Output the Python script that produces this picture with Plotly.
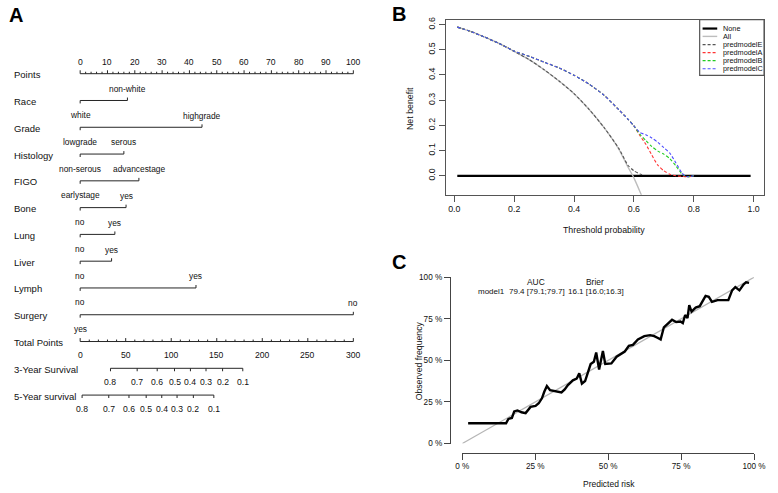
import plotly.graph_objects as go

# ---------------- Panel A : nomogram ----------------
row_names = ["Points", "Race", "Grade", "Histology", "FIGO", "Bone", "Lung", "Liver",
             "Lymph", "Surgery", "Total Points", "3-Year Survival", "5-Year survival"]
points_ticks = [0, 10, 20, 30, 40, 50, 60, 70, 80, 90, 100]

race_levels = ["white", "non-white"];          race_points = [0, 17.3]
grade_levels = ["lowgrade", "highgrade"];      grade_points = [0, 44.6]
histology_levels = ["non-serous", "serous"];   histology_points = [0, 16.0]
figo_levels = ["earlystage", "advancestage"];  figo_points = [0, 21.5]
bone_levels = ["no", "yes"];                   bone_points = [0, 16.8]
lung_levels = ["no", "yes"];                   lung_points = [0, 12.7]
liver_levels = ["no", "yes"];                  liver_points = [0, 11.5]
lymph_levels = ["no", "yes"];                  lymph_points = [0, 42.4]
surgery_levels = ["yes", "no"];                surgery_points = [0, 100]

total_ticks = [0, 50, 100, 150, 200, 250, 300]
surv3_labels = ["0.8", "0.7", "0.6", "0.5", "0.4", "0.3", "0.2", "0.1"]
surv3_total = [33.3, 62.6, 84.6, 103.6, 121.1, 138.2, 156.4, 178.6]
surv5_labels = ["0.8", "0.7", "0.6", "0.5", "0.4", "0.3", "0.2", "0.1"]
surv5_total = [2.1, 31.4, 53.6, 72.5, 89.6, 106.4, 124.3, 146.8]

# ---------------- Panel B : decision curves ----------------
thr_none = [0.01, 0.99]
nb_none = [0.0, 0.0]
thr_all = [0.01, 0.05, 0.10, 0.15, 0.20, 0.25, 0.30, 0.35, 0.40, 0.45, 0.50, 0.55, 0.58, 0.60, 0.62, 0.64]
nb_all = [0.590, 0.575, 0.551, 0.525, 0.494, 0.461, 0.421, 0.376, 0.326, 0.264, 0.192, 0.105, 0.035, -0.008, -0.062, -0.120]
thr_E = [0.01, 0.05, 0.10, 0.15, 0.20, 0.25, 0.30, 0.35, 0.40, 0.45, 0.50, 0.55, 0.58, 0.60, 0.62, 0.63]
nb_E = [0.590, 0.575, 0.551, 0.525, 0.494, 0.461, 0.421, 0.376, 0.326, 0.264, 0.192, 0.108, 0.042, 0.020, 0.007, 0.003]
thr_A = [0.01, 0.05, 0.10, 0.15, 0.20, 0.25, 0.30, 0.35, 0.40, 0.45, 0.50, 0.55, 0.58, 0.60, 0.62, 0.64, 0.66, 0.68, 0.70, 0.72, 0.74, 0.76, 0.78, 0.80]
nb_A = [0.590, 0.575, 0.551, 0.525, 0.495, 0.474, 0.451, 0.428, 0.399, 0.364, 0.320, 0.262, 0.225, 0.198, 0.160, 0.125, 0.082, 0.042, 0.020, 0.006, 0.000, -0.002, -0.004, 0.000]
thr_B = [0.01, 0.05, 0.10, 0.15, 0.20, 0.25, 0.30, 0.35, 0.40, 0.45, 0.50, 0.55, 0.58, 0.60, 0.62, 0.64, 0.66, 0.68, 0.70, 0.72, 0.74, 0.76, 0.77, 0.78, 0.80]
nb_B = [0.590, 0.575, 0.551, 0.525, 0.495, 0.474, 0.451, 0.428, 0.399, 0.364, 0.320, 0.262, 0.225, 0.198, 0.165, 0.140, 0.116, 0.098, 0.086, 0.068, 0.040, 0.008, 0.000, -0.004, 0.000]
thr_C = [0.01, 0.05, 0.10, 0.15, 0.20, 0.25, 0.30, 0.35, 0.40, 0.45, 0.50, 0.55, 0.58, 0.60, 0.62, 0.64, 0.66, 0.68, 0.70, 0.72, 0.74, 0.76, 0.77, 0.78, 0.80]
nb_C = [0.590, 0.575, 0.551, 0.525, 0.495, 0.474, 0.451, 0.428, 0.399, 0.364, 0.320, 0.262, 0.225, 0.198, 0.172, 0.163, 0.150, 0.133, 0.112, 0.090, 0.052, 0.012, 0.000, -0.004, 0.000]
dca_names = ["None", "All", "predmodelE", "predmodelA", "predmodelB", "predmodelC"]
b_xticks = [0.0, 0.2, 0.4, 0.6, 0.8, 1.0]
b_yticks = [0.0, 0.1, 0.2, 0.3, 0.4, 0.5, 0.6]

# ---------------- Panel C : calibration ----------------
cal_pred = [2.0, 15.0, 15.8, 17.0, 17.8, 18.9, 20.3, 21.7, 23.4, 25.1, 26.2, 27.3, 28.1, 29.0, 30.1,
            31.7, 34.0, 35.1, 36.2, 37.9, 39.2, 40.1, 41.0, 42.1, 43.2, 44.0, 45.1, 45.9, 46.9, 48.2,
            49.0, 51.1, 52.9, 54.4, 55.7, 57.1, 58.5, 60.2, 62.4, 64.4, 65.8, 66.9, 68.0, 69.1, 70.8,
            71.9, 73.3, 74.8, 75.6, 76.4, 77.2, 77.8, 78.6, 80.0, 81.4, 83.4, 84.5, 85.6, 87.5, 91.2,
            92.5, 93.6, 95.0, 96.4, 97.3, 98.3]
cal_obs = [12.2, 12.2, 14.8, 15.4, 19.3, 19.9, 18.8, 18.3, 22.0, 22.6, 24.2, 27.2, 31.1, 34.6, 32.1,
           31.7, 30.7, 32.5, 35.1, 38.0, 39.0, 42.3, 36.0, 37.6, 43.9, 47.8, 49.2, 54.7, 44.5, 55.7,
           47.8, 48.2, 52.2, 54.1, 55.3, 58.7, 59.3, 62.6, 64.6, 65.2, 64.6, 63.6, 62.6, 69.9, 72.4,
           74.4, 73.0, 73.4, 72.4, 77.3, 75.4, 83.2, 79.3, 81.7, 82.6, 88.8, 88.2, 85.2, 86.2, 86.2,
           92.1, 94.1, 92.1, 95.6, 97.0, 96.6]
diag_x = [0, 100]
diag_y = [0, 100]
rug_pct = [2, 3, 4, 5, 6, 7, 8, 9, 10, 11, 12, 13, 14, 15, 16, 17, 18, 19, 20, 21, 22, 23, 24, 25,
           26, 27, 28, 29, 30, 31, 32, 33, 34, 35, 36, 37, 38, 39, 40, 41, 42, 43, 44, 45, 46, 47,
           48, 49, 50, 51, 52, 53, 54, 55, 56, 57, 58, 59, 60, 61, 62, 63, 64, 65, 66, 67, 68, 69,
           70, 71, 72, 73, 74, 75, 76, 77, 78, 79, 80, 81, 82, 83, 84, 85, 86, 87, 88, 89, 90, 91,
           92, 93, 94, 95, 96, 97, 98]
c_ticks = [0, 25, 50, 75, 100]
c_ticklabels = ["0 %", "25 %", "50 %", "75 %", "100 %"]
auc_text = "79.4 [79.1;79.7]"
brier_text = "16.1 [16.0;16.3]"

# ---------------- geometry / style ----------------
W, H = 778, 493
FONT = "Liberation Sans, Arial, sans-serif"
BOLD = "Liberation Sans, Arial, sans-serif"
TXT = "#111111"
LINE = "#262626"


def PX(px):
    return px / W


def PY(py):
    return 1 - py / H


A_X0, A_SCALE = 75.0, 2.8           # pixel of 0 points, pixels per point
ROW0, ROWSTEP = 71.0, 27.28


def row_y(i):
    return ROW0 + i * ROWSTEP


fig = go.Figure()
ann = []


def note(text, x, y, xref="paper", yref="paper", size=9, xa="center", ya="middle",
         color=TXT, family=FONT, angle=0):
    ann.append(dict(text=text, x=x, y=y, xref=xref, yref=yref, showarrow=False,
                    xanchor=xa, yanchor=ya, textangle=angle, borderpad=0,
                    font=dict(size=size, color=color, family=family)))


# ---- Panel A drawing ----
sx, sy = [], []


def seg(x0, y0, x1, y1):
    sx.extend([x0, x1, None])
    sy.extend([y0, y1, None])


A_TICK = 8.6
A_LEV = 8.4
A_ROW = 9.5

# Points axis
r = row_y(0)
seg(points_ticks[0], r, points_ticks[-1], r)
for v in range(points_ticks[0], points_ticks[-1] + 1, 2):
    seg(v, r, v, r - (3.5 if v % 10 == 0 else 2.0))
for v in points_ticks:
    note(str(v), v, r - 12, "x", "y", A_TICK)

variables = [(race_levels, race_points), (grade_levels, grade_points),
             (histology_levels, histology_points), (figo_levels, figo_points),
             (bone_levels, bone_points), (lung_levels, lung_points),
             (liver_levels, liver_points), (lymph_levels, lymph_points),
             (surgery_levels, surgery_points)]
for i, (levs, pts) in enumerate(variables):
    r = row_y(i + 1)
    seg(min(pts), r, max(pts), r)
    # first level: label below the line, tick down; second level: label above, tick up
    seg(pts[0], r, pts[0], r + 3)
    note(levs[0], pts[0], r + 14.8, "x", "y", A_LEV)
    seg(pts[1], r, pts[1], r - 3)
    note(levs[1], pts[1], r - 11.8, "x", "y", A_LEV)

# Total points axis
r = row_y(10)
seg(total_ticks[0] / 3, r, total_ticks[-1] / 3, r)
for v in range(total_ticks[0], total_ticks[-1] + 1, 10):
    seg(v / 3, r, v / 3, r - (3.5 if v % 50 == 0 else 2.0))
for v in total_ticks:
    note(str(v), v / 3, r + 13.7, "x", "y", A_TICK)

# survival axes
for k, (labs, tot) in enumerate([(surv3_labels, surv3_total), (surv5_labels, surv5_total)]):
    r = row_y(11 + k)
    seg(tot[0] / 3, r, tot[-1] / 3, r)
    for lab, t in zip(labs, tot):
        seg(t / 3, r, t / 3, r + 3)
        note(lab, t / 3, r + 14, "x", "y", A_TICK)

for i, name in enumerate(row_names):
    note(name, PX(6), row_y(i) + 1, "paper", "y", A_ROW, xa="left")

fig.add_trace(go.Scatter(x=sx, y=sy, mode="lines", line=dict(color=LINE, width=1),
                         xaxis="x", yaxis="y", hoverinfo="skip"))

# ---- Panel B drawing ----
dca = [(thr_none, nb_none, "#000000", 2.2, "solid"),
       (thr_all, nb_all, "#bdbdbd", 1.4, "solid"),
       (thr_E, nb_E, "#555555", 1.1, "3px,2px"),
       (thr_A, nb_A, "#ff3333", 1.1, "3px,2px"),
       (thr_B, nb_B, "#22cc22", 1.1, "3px,2px"),
       (thr_C, nb_C, "#4d4dff", 1.1, "3px,2px")]
for (tx, ty, col, w, dash), nm in zip(dca, dca_names):
    fig.add_trace(go.Scatter(x=tx, y=ty, mode="lines", name=nm,
                             line=dict(color=col, width=w, dash=dash, shape="spline", smoothing=0.6),
                             xaxis="x2", yaxis="y2"))

shapes = [dict(type="rect", xref="paper", yref="paper", x0=PX(710), x1=PX(776), y0=PY(72.7), y1=PY(16),
               line=dict(color="#555555", width=1.2), fillcolor="white", layer="above")]
leg_y = [25, 33, 41.4, 49.5, 57.7, 66]
for (tx, ty, col, w, dash), nm, ly in zip(dca, dca_names, leg_y):
    shapes.append(dict(type="line", xref="paper", yref="paper", x0=PX(713), x1=PX(728),
                       y0=PY(ly), y1=PY(ly), line=dict(color=col, width=w, dash=dash), layer="above"))
    note(nm, PX(733), PY(ly), size=7.3, xa="left")

note("Threshold probability", PX(612), PY(230), size=8.8)
note("Net benefit", PX(413), PY(106), size=8.8, angle=-90)

# ---- Panel C drawing ----
fig.add_trace(go.Scatter(x=diag_x, y=diag_y, mode="lines", line=dict(color="#b5b5b5", width=1.2),
                         xaxis="x3", yaxis="y3", hoverinfo="skip"))
fig.add_trace(go.Scatter(x=cal_pred, y=cal_obs, mode="lines", line=dict(color="#000000", width=2.4),
                         xaxis="x3", yaxis="y3"))
fig.add_trace(go.Scatter(x=rug_pct, y=[-1.85] * len(rug_pct), mode="markers", cliponaxis=False,
                         marker=dict(symbol="line-ns", size=5, line=dict(width=1, color="#444444")),
                         xaxis="x3", yaxis="y3", hoverinfo="skip"))

C_TXT = 8.0
note("AUC", PX(542.3), PY(283.3), size=8.4)
note("Brier", PX(602.7), PY(283.3), size=8.4)
note("model1", PX(512), PY(293.3), size=C_TXT, xa="right")
note(auc_text, PX(542.8), PY(293.3), size=C_TXT)
note(brier_text, PX(604), PY(293.3), size=C_TXT)
note("Observed frequency", PX(422.3), PY(363), size=8.7, angle=-90)
note("Predicted risk", PX(616.7), PY(488.5), size=8.5)

note("<b>A</b>", PX(9.5), PY(11.7), size=20, family=BOLD, color="#000000")
note("<b>B</b>", PX(401.7), PY(10), size=20, family=BOLD, color="#000000")
note("<b>C</b>", PX(401.7), PY(263.3), size=20, family=BOLD, color="#000000")

b_tickfont = dict(family=FONT, size=8.8, color=TXT)
c_tickfont = dict(family=FONT, size=8.2, color=TXT)
fig.update_layout(
    width=W, height=H, autosize=False, margin=dict(l=0, r=0, t=0, b=0, pad=0),
    paper_bgcolor="white", plot_bgcolor="white", showlegend=False,
    annotations=ann, shapes=shapes,
    xaxis=dict(domain=[0, PX(380)], range=[-A_X0 / A_SCALE, (380 - A_X0) / A_SCALE],
               visible=False, fixedrange=True),
    yaxis=dict(domain=[0, 1], range=[H, 0], visible=False, fixedrange=True),
    xaxis2=dict(domain=[PX(450), PX(776)], range=[-0.0277, 1.0349], anchor="y2",
                tickvals=b_xticks, ticktext=[f"{v:.1f}" for v in b_xticks],
                ticks="outside", ticklen=6, tickcolor="#555555", tickwidth=1,
                showline=True, mirror=True, linecolor="#555555", linewidth=1.3,
                showgrid=False, zeroline=False, tickfont=b_tickfont),
    yaxis2=dict(domain=[PY(194.3), PY(16)], range=[-0.0752, 0.6194], anchor="x2",
                tickvals=b_yticks, ticktext=[f"{v:.1f}" for v in b_yticks], tickangle=-90,
                ticks="outside", ticklen=6, tickcolor="#555555", tickwidth=1,
                showline=True, mirror=True, linecolor="#555555", linewidth=1.3,
                showgrid=False, zeroline=False, tickfont=b_tickfont),
    xaxis3=dict(domain=[PX(466.7), PX(765.7)], range=[0, 100], anchor="free", position=PY(457),
                tickvals=c_ticks, ticktext=c_ticklabels, ticks="outside", ticklen=6,
                tickcolor="#444444", showline=True, linecolor="#444444", linewidth=1,
                showgrid=False, zeroline=False, tickfont=c_tickfont),
    yaxis3=dict(domain=[PY(447.7), PY(278.3)], range=[0, 100], anchor="free", position=PX(454),
                tickvals=c_ticks, ticktext=c_ticklabels, ticks="outside", ticklen=6,
                tickcolor="#444444", showline=True, linecolor="#444444", linewidth=1,
                showgrid=False, zeroline=False, tickfont=c_tickfont),
)

fig.write_html("out.html", post_script="document.body.style.margin='0';",
               config={"displayModeBar": False})
